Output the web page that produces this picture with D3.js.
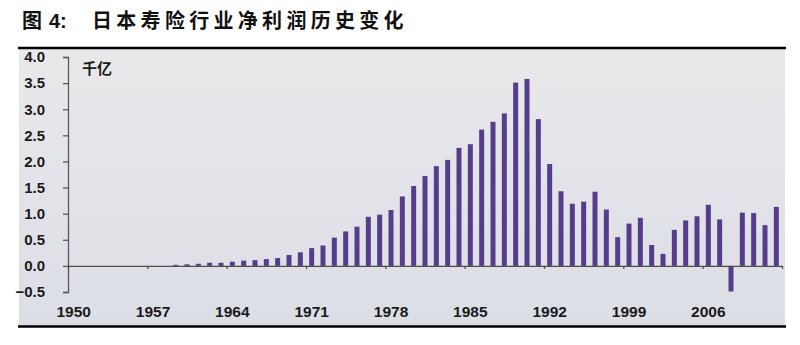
<!DOCTYPE html>
<html>
<head>
<meta charset="utf-8">
<script src="https://cdn.jsdelivr.net/npm/d3@7"></script>
<style>
  html, body { margin: 0; padding: 0; background: #fff; }
  svg { display: block; }
</style>
</head>
<body>
<svg id="chart" width="800" height="345"></svg>
<script>
// Net profit of Japan's life insurance industry, 1950–2012 (unit: 千亿 yen)
const years = d3.range(1950, 2013);
const profits = [
  0, 0, 0, 0, 0, 0, 0, 0, 0,                 // 1950–1958
  0.02, 0.03, 0.04, 0.06, 0.06, 0.08, 0.10,  // 1959–1965
  0.11, 0.13, 0.15, 0.21, 0.26, 0.34, 0.39,  // 1966–1972
  0.54, 0.66, 0.75, 0.94, 0.98, 1.07, 1.33,  // 1973–1979
  1.53, 1.72, 1.91, 2.03, 2.26, 2.33, 2.61,  // 1980–1986
  2.76, 2.92, 3.51, 3.58, 2.81, 1.95, 1.43,  // 1987–1993
  1.19, 1.23, 1.42, 1.08, 0.55, 0.81, 0.92,  // 1994–2000
  0.40, 0.23, 0.69, 0.87, 0.95, 1.17, 0.89,  // 2001–2007
  -0.49, 1.02, 1.01, 0.78, 1.13              // 2008–2012
];
const yTicks = [-0.5, 0, 0.5, 1, 1.5, 2, 2.5, 3, 3.5, 4];
const xLabelYears = [1950, 1957, 1964, 1971, 1978, 1985, 1992, 1999, 2006];
const xEdgeYears = [1950, 1957, 1964, 1971, 1978, 1985, 1992, 1999, 2006, 2013];
const titleFig = "图";
const titleNum = "4:";
const titleText = "日本寿险行业净利润历史变化";
const unitLabel = "千亿";

const svg = d3.select("#chart");
const numFont = "'Liberation Sans', Arial, sans-serif";
const cjkFont = "'Noto Sans CJK SC', sans-serif";

// panel background
const defs = svg.append("defs");
const grad = defs.append("linearGradient").attr("id", "bg").attr("x1", 0).attr("y1", 0).attr("x2", 0).attr("y2", 1);
grad.append("stop").attr("offset", "0%").attr("stop-color", "#e9e9eb");
grad.append("stop").attr("offset", "100%").attr("stop-color", "#dcdee6");
svg.append("rect").attr("x", 19).attr("y", 49).attr("width", 766).attr("height", 277).attr("fill", "url(#bg)");

// title and rules
const title = svg.append("text").attr("y", 28)
  .attr("font-family", cjkFont).attr("font-weight", 700).attr("font-size", 20).attr("fill", "#111");
title.append("tspan").attr("x", 22).text(titleFig);
title.append("tspan").attr("x", 49).attr("font-family", numFont).attr("font-size", 20).text(titleNum);
title.append("tspan").attr("x", 92).attr("letter-spacing", 4.3).text(titleText);
svg.append("line").attr("x1", 18).attr("x2", 786).attr("y1", 48).attr("y2", 48)
  .attr("stroke", "#000").attr("stroke-width", 2.5);
svg.append("line").attr("x1", 18).attr("x2", 786).attr("y1", 326.5).attr("y2", 326.5)
  .attr("stroke", "#000").attr("stroke-width", 2.5);

// scales
const x = d3.scaleBand().domain(years).range([68, 782]).paddingInner(0.56).paddingOuter(0.28);
const xEdge = d3.scaleLinear().domain([1950, 2013]).range([68, 782]);
const y = d3.scaleLinear().domain([-0.5, 4]).range([292, 57]);

// bars
svg.append("g").selectAll("rect").data(years).join("rect")
  .attr("x", d => x(d))
  .attr("width", x.bandwidth())
  .attr("y", (d, i) => y(Math.max(0, profits[i])))
  .attr("height", (d, i) => Math.abs(y(profits[i]) - y(0)))
  .attr("fill", "#563d8c");

// y axis
const yAxis = svg.append("g").attr("transform", "translate(68,0)")
  .call(d3.axisLeft(y).tickValues(yTicks).tickFormat(d3.format(".1f")).tickSize(5).tickPadding(18));
yAxis.select(".domain").attr("stroke", "#5a5a5a").attr("stroke-width", 1.3);
yAxis.selectAll(".tick line").attr("stroke", "#5a5a5a").attr("stroke-width", 1.3);
yAxis.selectAll(".tick text").attr("font-family", numFont).attr("font-weight", 700)
  .attr("font-size", 15).attr("fill", "#1a1a1a");

// x axis at zero with category-boundary ticks
const xAxis = svg.append("g").attr("transform", `translate(0,${y(0)})`)
  .call(d3.axisBottom(xEdge).tickValues(xEdgeYears).tickFormat("").tickSize(3).tickSizeOuter(0));
xAxis.select(".domain").attr("stroke", "#4d4d45").attr("stroke-width", 1.3);
xAxis.selectAll(".tick line").attr("stroke", "#4d4d45").attr("stroke-width", 1.3);

// year labels under the panel
const xLabels = svg.append("g").attr("transform", "translate(0,306)")
  .call(d3.axisBottom(x).tickValues(xLabelYears).tickSize(0).tickPadding(0));
xLabels.select(".domain").remove();
xLabels.selectAll(".tick text").attr("font-family", numFont).attr("font-weight", 700)
  .attr("font-size", 15.5).attr("fill", "#1a1a1a");

// unit label
svg.append("text").attr("x", 82).attr("y", 74)
  .attr("font-family", cjkFont).attr("font-weight", 700).attr("font-size", 15)
  .attr("fill", "#1a1a1a").text(unitLabel);
</script>
</body>
</html>
